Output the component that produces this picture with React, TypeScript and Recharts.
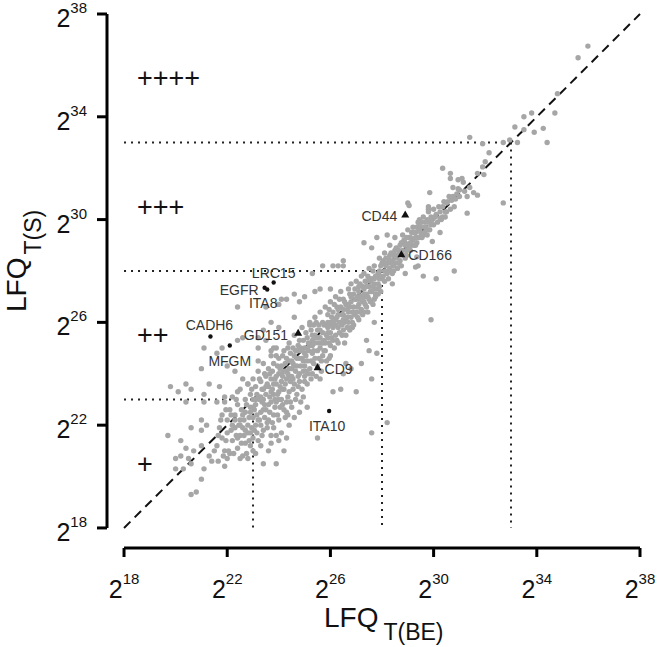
import { ScatterChart, Scatter, XAxis, YAxis, ReferenceLine } from 'recharts'

const FONT = '"Liberation Sans", Arial, Helvetica, sans-serif'

// log2 exponents on both axes
const axisTicks = [18, 22, 26, 30, 34, 38]
// the drawn axes sit a little outside the 2^18 corner
const xDomain = [17.34, 38]
const yDomain = [17.22, 38]
// dotted abundance cut-offs
const cutoffs = [23, 28, 33]
const plusLevels = ['+', '++', '+++', '++++']
const plusY = [20.5, 25.5, 30.5, 35.5]

type Pt = [number, number]

// [log2 LFQ T(BE), log2 LFQ T(S)]
const lowerScatter: Pt[] = [
  [19.8, 23.5], [20.4, 23.6], [20.6, 23.4], [20.1, 23.3], [21.3, 23.6], [21.1, 23.2], [21.7, 23.5],
  [20.4, 22.9], [21.1, 22.9], [21.6, 22.9], [21.9, 23.1], [22.4, 23.3], [22.6, 23.8], [22.3, 24.1],
  [21.0, 22.2], [20.6, 21.9], [21.0, 21.8], [21.2, 22.0], [20.2, 21.4], [20.4, 21.1], [20.0, 20.7],
  [20.2, 20.8], [20.5, 20.7], [20.6, 20.5], [20.7, 21.0], [21.0, 21.2], [20.3, 20.3], [21.1, 20.3],
  [21.0, 19.9], [20.6, 19.3], [20.8, 19.4], [21.3, 20.8], [21.4, 20.6], [21.9, 20.4], [21.5, 21.0],
  [22.0, 20.7], [22.5, 20.7], [22.8, 20.7], [23.0, 21.0], [23.4, 20.5], [23.9, 20.5], [24.2, 21.0],
  [24.1, 21.7], [23.8, 21.9], [23.7, 21.3], [23.3, 21.2], [19.7, 21.6], [20.0, 20.3],
  [22.9, 21.2], [23.1, 20.9], [23.6, 21.0], [24.0, 21.4], [24.4, 22.0], [24.6, 22.3], [24.8, 22.5],
  [23.9, 21.6], [24.3, 22.5],
]

const lowerBand: Pt[] = [
  [21.6, 21.2], [21.7, 21.9], [21.8, 22.4], [21.8, 21.5], [21.9, 22.9], [21.9, 21.0], [22.0, 21.7],
  [22.0, 22.2], [22.1, 20.9], [22.1, 22.6], [22.2, 21.4], [22.2, 23.1], [22.3, 21.9], [22.3, 22.4],
  [22.4, 21.1], [22.4, 22.8], [22.5, 21.6], [22.5, 22.2], [22.5, 23.4], [22.6, 21.9], [22.6, 20.8],
  [22.7, 22.5], [22.7, 23.0], [22.7, 21.3], [22.8, 22.0], [22.8, 23.6], [22.9, 21.7], [22.9, 22.7],
  [22.9, 23.2], [23.0, 22.3], [23.0, 21.5], [23.0, 23.0], [23.0, 23.8],
  [21.65, 20.6], [21.65, 21.6], [21.75, 22.2], [21.85, 20.8], [21.95, 21.4], [21.95, 22.6],
  [22.05, 21.0], [22.15, 21.8], [22.15, 22.4], [22.25, 20.9], [22.35, 21.6], [22.35, 23.0], [22.45, 22.0],
  [22.55, 21.3], [22.55, 22.6], [22.65, 21.6], [22.65, 22.2], [22.75, 20.9], [22.75, 22.8], [22.85, 21.4],
  [22.85, 22.3], [22.95, 21.9], [22.95, 23.4],
  [23.1, 22.0], [23.1, 22.8], [23.1, 23.5], [23.2, 21.4], [23.2, 23.1], [23.2, 24.1], [23.3, 22.5],
  [23.3, 23.7], [23.3, 22.0], [23.4, 23.0], [23.4, 23.4], [23.4, 24.4], [23.4, 21.8], [23.5, 22.6],
  [23.5, 23.9], [23.5, 23.2], [23.6, 22.2], [23.6, 24.2], [23.6, 23.5], [23.7, 22.9], [23.7, 24.7],
  [23.7, 23.8], [23.7, 21.6], [23.8, 23.2], [23.8, 22.4], [23.8, 24.4], [23.9, 23.6], [23.9, 22.9],
  [23.9, 25.0], [24.0, 23.3], [24.0, 24.0], [24.0, 22.2], [24.0, 24.6], [24.1, 23.0], [24.1, 23.7],
  [24.1, 24.3], [24.2, 22.6], [24.2, 24.9], [24.2, 23.4], [24.3, 24.1], [24.3, 23.8], [24.3, 22.9],
  [24.4, 24.5], [24.4, 23.3], [24.4, 25.2], [24.5, 23.9], [24.5, 24.2], [24.5, 22.7], [24.6, 24.7],
  [24.6, 23.6], [24.6, 25.5], [24.7, 24.3], [24.7, 23.2], [24.7, 24.9], [24.8, 24.0], [24.8, 25.3],
  [24.8, 23.7], [24.9, 24.6], [24.9, 25.8], [24.9, 23.4], [25.0, 24.3], [25.0, 25.0], [25.0, 24.8],
  [25.0, 23.9],
  [23.15, 22.4], [23.25, 23.8], [23.35, 22.9], [23.45, 24.0], [23.55, 22.1], [23.65, 23.1], [23.75, 24.1],
  [23.85, 23.0], [23.95, 24.3], [24.05, 22.7], [24.15, 24.7], [24.25, 23.6], [24.35, 22.4], [24.45, 23.7],
  [24.55, 24.4], [24.65, 23.0], [24.75, 25.1], [24.85, 24.3], [24.95, 23.1], [24.95, 25.3], [24.15, 23.4],
  [24.35, 25.0], [24.55, 25.0], [23.9, 24.7], [24.8, 24.6], [24.4, 23.9],
  [23.05, 21.8], [23.05, 22.6], [23.15, 23.2], [23.15, 21.7], [23.25, 22.2], [23.25, 23.0], [23.35, 21.6],
  [23.35, 23.4], [23.45, 22.3], [23.45, 22.8], [23.55, 21.9], [23.55, 23.6], [23.65, 22.5], [23.65, 24.0],
  [23.75, 22.1], [23.75, 23.4], [23.85, 22.7], [23.85, 23.8], [23.95, 22.4], [23.95, 23.2],
  [24.05, 23.5], [24.05, 24.2], [24.15, 22.8], [24.15, 23.9], [24.25, 22.3], [24.25, 24.4], [24.35, 23.1],
  [24.35, 24.0], [24.45, 22.9], [24.45, 24.8], [24.55, 23.4], [24.55, 23.8], [24.65, 24.1], [24.65, 24.9],
  [24.75, 23.5], [24.75, 23.9], [24.85, 22.9], [24.85, 25.0], [24.95, 24.1], [24.95, 24.5],
  [22.2, 22.0], [22.4, 21.5], [22.6, 22.4], [22.8, 21.7], [23.0, 22.7], [23.2, 22.2], [23.4, 22.6],
  [23.6, 22.8], [23.8, 23.6], [24.0, 23.0], [24.2, 24.1], [24.4, 24.2], [24.6, 24.3], [24.8, 24.9],
  [22.3, 22.2], [22.5, 22.0], [22.7, 21.8], [22.9, 22.5], [23.1, 23.0], [23.3, 23.1], [23.5, 23.5],
  [23.7, 23.3], [23.9, 23.9], [24.1, 24.0], [24.3, 24.6], [24.5, 24.5], [24.7, 24.6], [24.9, 24.9],
]

const midBand: Pt[] = [
  [25.1, 24.5], [25.1, 25.4], [25.1, 23.6], [25.2, 25.1], [25.2, 24.2], [25.2, 25.9], [25.3, 24.8],
  [25.3, 25.5], [25.3, 24.0], [25.4, 25.2], [25.4, 26.2], [25.4, 24.6], [25.5, 25.7], [25.5, 24.9],
  [25.5, 24.3], [25.6, 25.4], [25.6, 26.4], [25.6, 25.0], [25.7, 24.7], [25.7, 26.0], [25.7, 25.6],
  [25.8, 25.2], [25.8, 26.6], [25.8, 24.9], [25.9, 25.8], [25.9, 25.4], [25.9, 26.3], [26.0, 25.1],
  [26.0, 26.0], [26.0, 26.8], [26.0, 25.6], [26.1, 25.3], [26.1, 26.4], [26.1, 25.8], [26.2, 26.1],
  [26.2, 25.5], [26.2, 27.0], [26.3, 26.3], [26.3, 25.8], [26.3, 25.2], [26.4, 26.6], [26.4, 26.0],
  [26.4, 27.2], [26.5, 25.7], [26.5, 26.3], [26.5, 26.9], [26.6, 26.1], [26.6, 26.7], [26.6, 25.5],
  [26.7, 26.4], [26.7, 27.3], [26.7, 26.0], [26.8, 26.8], [26.8, 26.2], [26.8, 27.5], [26.9, 26.6],
  [26.9, 25.9], [26.9, 27.1], [27.0, 26.9], [27.0, 26.4], [27.0, 27.6], [27.1, 26.7], [27.1, 27.2],
  [27.1, 26.1], [27.2, 27.0], [27.2, 27.8], [27.2, 26.5], [27.3, 27.3], [27.3, 26.8], [27.3, 27.9],
  [27.4, 27.1], [27.4, 26.6], [27.4, 27.6], [27.5, 27.4], [27.5, 28.1], [27.5, 26.9], [27.6, 27.7],
  [27.6, 27.2], [27.7, 27.5], [27.7, 28.2], [27.7, 26.9], [27.8, 27.8], [27.8, 27.3], [27.9, 28.0],
  [27.9, 28.5], [27.9, 27.4], [28.0, 27.7], [28.0, 28.3],
  [25.05, 25.6], [25.15, 24.0], [25.25, 24.5], [25.35, 25.9], [25.45, 23.9], [25.55, 25.2], [25.65, 24.5],
  [25.75, 25.3], [25.85, 25.9], [25.95, 24.6], [26.05, 26.2], [26.15, 25.0], [26.25, 26.6], [26.35, 25.6],
  [26.45, 26.3], [26.55, 25.2], [26.65, 26.5], [26.75, 25.7], [26.85, 26.0], [26.95, 26.9], [27.05, 26.2],
  [27.15, 27.5], [27.25, 26.3], [27.35, 27.0], [27.45, 26.4], [27.55, 27.6], [27.65, 26.7], [27.75, 27.1],
  [27.85, 27.9], [27.95, 27.2], [25.4, 25.5], [25.6, 25.7], [25.9, 26.0], [26.2, 25.9], [26.5, 26.5],
  [26.8, 27.0], [27.1, 26.9], [27.4, 27.4], [27.7, 27.7], [25.3, 25.1],
  [25.05, 24.1], [25.05, 24.7], [25.15, 25.2], [25.15, 24.9], [25.25, 23.8], [25.25, 25.7], [25.35, 24.4],
  [25.35, 24.9], [25.45, 25.4], [25.45, 26.0], [25.55, 24.6], [25.55, 25.9], [25.65, 25.2], [25.65, 24.1],
  [25.75, 25.9], [25.75, 24.9], [25.85, 25.5], [25.85, 24.5], [25.95, 25.2], [25.95, 26.5],
  [26.05, 25.4], [26.05, 25.9], [26.15, 26.7], [26.15, 26.1], [26.25, 25.3], [26.25, 26.2], [26.35, 26.0],
  [26.35, 26.9], [26.45, 25.5], [26.45, 25.9], [26.55, 26.0], [26.55, 26.8], [26.65, 26.2], [26.65, 25.8],
  [26.75, 26.6], [26.75, 27.1], [26.85, 26.4], [26.85, 25.8], [26.95, 26.3], [26.95, 27.3],
  [27.05, 26.6], [27.05, 27.0], [27.15, 26.4], [27.15, 27.0], [27.25, 27.4], [27.25, 26.8], [27.35, 26.7],
  [27.35, 27.6], [27.45, 27.0], [27.45, 27.8], [27.55, 26.8], [27.55, 27.2], [27.65, 27.4], [27.65, 28.0],
  [27.75, 27.0], [27.75, 27.8], [27.85, 27.5], [27.85, 27.1], [27.95, 27.8], [27.95, 28.2],
  [25.1, 25.0], [25.3, 25.3], [25.5, 25.4], [25.7, 25.2], [25.9, 25.6], [26.1, 26.0], [26.3, 26.5],
  [26.5, 26.1], [26.7, 26.7], [26.9, 26.4], [27.1, 27.4], [27.3, 27.1], [27.5, 27.7], [27.7, 27.3],
  [27.9, 27.7],
]

const upperBand: Pt[] = [
  [28.1, 28.0], [28.1, 27.6], [28.1, 28.7], [28.2, 28.3], [28.2, 27.9], [28.3, 28.6], [28.3, 28.1],
  [28.3, 29.0], [28.4, 28.4], [28.4, 27.9], [28.5, 28.8], [28.5, 28.3], [28.5, 29.3], [28.6, 28.6],
  [28.6, 28.1], [28.7, 29.0], [28.7, 28.4], [28.8, 29.4], [28.8, 28.8], [28.9, 29.1], [28.9, 28.5],
  [29.0, 29.6], [29.0, 29.0], [29.1, 29.3], [29.1, 28.8], [29.2, 29.7], [29.2, 29.2], [29.3, 29.5],
  [29.3, 29.0], [29.4, 29.9], [29.4, 29.3], [29.5, 29.7], [29.6, 30.1], [29.6, 29.4], [29.7, 29.9],
  [29.8, 30.3], [29.8, 29.6], [29.9, 30.1], [30.0, 30.4], [30.0, 29.8],
  [28.05, 28.4], [28.15, 28.2], [28.25, 27.7], [28.35, 28.7], [28.45, 28.2], [28.55, 28.9], [28.65, 28.3],
  [28.75, 28.7], [28.85, 29.2], [28.95, 28.8], [29.05, 29.3], [29.15, 29.0], [29.25, 29.5], [29.35, 29.1],
  [29.45, 29.6], [29.55, 29.3], [29.65, 29.7], [29.75, 30.0], [30.1, 30.2], [30.2, 30.5], [30.3, 30.0],
  [30.4, 30.7], [30.5, 30.3], [30.6, 30.9], [30.8, 30.5], [31.0, 30.9], [31.2, 31.1], [31.1, 31.6],
  [30.9, 31.0],
  [28.05, 27.8], [28.15, 28.5], [28.25, 28.0], [28.25, 28.5], [28.35, 28.3], [28.45, 28.6], [28.45, 28.0],
  [28.55, 28.5], [28.65, 28.8], [28.75, 28.2], [28.75, 29.1], [28.85, 28.6], [28.95, 29.3], [28.95, 28.6],
  [29.05, 28.9], [29.15, 29.5], [29.25, 29.0], [29.35, 29.7], [29.45, 29.3], [29.55, 29.9], [29.65, 29.5],
  [29.75, 29.4], [29.85, 29.9], [29.95, 30.0], [30.05, 30.1], [30.15, 29.9], [30.25, 30.3], [30.35, 30.5],
  [30.45, 30.1], [30.55, 30.7], [30.65, 30.4], [30.75, 30.9], [30.85, 30.8], [30.95, 31.2],
  [28.1, 28.3], [28.3, 28.4], [28.5, 28.6], [28.7, 28.7], [28.9, 29.0], [29.1, 29.1], [29.3, 29.3],
  [29.5, 29.5], [29.7, 29.7], [29.9, 29.8],
]

const topTail: Pt[] = [
  [35.98, 36.75], [35.6, 36.3], [34.8, 34.9], [34.7, 34.15], [33.8, 34.15], [33.5, 34.0], [33.15, 33.6],
  [33.5, 33.5], [33.9, 33.4], [34.25, 33.55], [34.4, 33.0], [32.95, 33.1], [32.7, 33.0], [33.25, 33.0],
  [31.9, 32.95], [31.4, 33.2], [32.15, 32.6], [32.0, 32.25], [31.9, 32.05], [31.7, 31.8], [31.95, 31.75],
  [30.35, 32.0], [30.65, 31.8], [30.95, 31.55], [31.15, 31.45], [31.4, 31.25], [31.55, 31.05], [31.0, 31.15],
  [30.75, 31.25], [31.3, 30.9], [29.85, 31.05], [32.7, 30.65], [31.3, 30.25], [30.7, 30.75], [30.5, 30.65],
  [30.45, 30.3], [30.25, 30.05], [29.8, 30.4], [29.05, 30.55], [29.45, 30.0], [29.85, 29.6], [30.35, 30.1],
  [31.7, 30.95], [30.65, 31.6], [29.8, 30.5], [29.0, 30.65], [29.95, 29.15], [30.25, 29.5], [29.45, 29.8],
  [29.6, 27.8], [29.3, 28.15], [29.35, 28.55], [28.9, 27.9],
]

const outliers: Pt[] = [
  [24.3, 21.5], [25.1, 22.7], [25.5, 21.5], [27.6, 21.7], [28.2, 22.1], [26.1, 23.3], [26.4, 23.4],
  [27.0, 23.3], [27.6, 23.8], [27.4, 25.3], [26.8, 25.8], [27.8, 24.8], [26.6, 24.4], [26.5, 24.0],
  [27.3, 26.4], [27.7, 26.0], [27.5, 24.9], [26.8, 24.2], [27.2, 24.4], [26.0, 24.7], [25.6, 23.8],
  [25.0, 23.7], [24.6, 27.1], [25.0, 27.0], [25.4, 27.2], [25.6, 27.3], [26.0, 27.3], [26.5, 28.2],
  [26.1, 28.2], [24.8, 26.8], [24.1, 26.9], [24.6, 26.2], [25.2, 26.0], [23.5, 26.6], [23.7, 26.0],
  [23.2, 25.4], [23.4, 25.7], [24.0, 25.8], [23.5, 25.3], [23.2, 25.0], [23.7, 24.9], [25.7, 28.2],
  [26.3, 28.2], [25.3, 27.9], [24.0, 26.7], [22.4, 26.6], [22.6, 25.4], [22.4, 25.3], [21.8, 25.0],
  [21.1, 25.0], [21.6, 24.8], [21.0, 24.2], [22.0, 24.3], [23.2, 24.5], [23.8, 25.0], [22.8, 23.6],
  [27.3, 29.1], [27.8, 29.3], [28.2, 29.4], [27.6, 28.9], [29.4, 28.2], [30.1, 27.7], [30.8, 28.0],
  [28.4, 27.5], [26.5, 28.4], [29.9, 26.1], [24.3, 26.9], [23.97, 26.7],
]

const markedNames = ['CD44', 'CD166', 'LRC15', 'EGFR', 'ITA8', 'CADH6', 'MFGM', 'GD151', 'CD9', 'ITA10']
const markedBE = [28.9, 28.75, 23.8, 23.45, 23.55, 21.35, 22.1, 24.75, 25.5, 25.95]
const markedS = [30.2, 28.65, 27.55, 27.35, 27.28, 25.45, 25.1, 25.6, 24.25, 22.55]

// label placement for the marked proteins (pixels)
const labelStyle: Record<string, { dx: number; dy: number; anchor: 'start' | 'middle' | 'end'; tri?: boolean }> = {
  CD44: { dx: -8, dy: 7, anchor: 'end', tri: true },
  CD166: { dx: 7, dy: 6, anchor: 'start', tri: true },
  LRC15: { dx: 0, dy: -5, anchor: 'middle' },
  EGFR: { dx: -6, dy: 7, anchor: 'end' },
  ITA8: { dx: -4, dy: 19, anchor: 'middle' },
  CADH6: { dx: -1, dy: -7, anchor: 'middle' },
  MFGM: { dx: 0, dy: 20, anchor: 'middle' },
  GD151: { dx: -10, dy: 7, anchor: 'end', tri: true },
  CD9: { dx: 7, dy: 7, anchor: 'start', tri: true },
  ITA10: { dx: -2, dy: 20, anchor: 'middle' },
}

const grayData = [...lowerScatter, ...lowerBand, ...midBand, ...upperBand, ...topTail, ...outliers].map(
  ([x, y]) => ({ x, y })
)
const markedData = markedNames.map((name, i) => ({ name, x: markedBE[i], y: markedS[i] }))
const plusData = plusLevels.map((t, i) => ({ t, x: 18.5, y: plusY[i] }))

const GrayDot = (p: any) => <circle cx={p.cx} cy={p.cy} r={2.7} fill="#a6a6a6" />

const MarkedDot = (p: any) => {
  const name = p.payload.name
  const s = labelStyle[name]
  return (
    <g>
      {s.tri ? (
        <path d={`M${p.cx},${p.cy - 4} L${p.cx + 4},${p.cy + 3} L${p.cx - 4},${p.cy + 3} Z`} fill="#111" />
      ) : (
        <circle cx={p.cx} cy={p.cy} r={2.2} fill="#111" />
      )}
      <text x={p.cx + s.dx} y={p.cy + s.dy} textAnchor={s.anchor} fontSize={14} fontFamily={FONT} fill="#333">
        {name}
      </text>
    </g>
  )
}

const PlusLabel = (p: any) => (
  <text x={p.cx} y={p.cy + 9} fontSize={27} fontFamily={FONT} fill="#111">
    {p.payload.t}
  </text>
)

// x, y arrive at the axis line (tickSize 0)
const XTick = ({ x, y, payload }: any) => (
  <g>
    <line x1={x} x2={x} y1={y} y2={y + 9} stroke="#000" strokeWidth={3} />
    <text x={x} y={y + 50} textAnchor="middle" fontSize={25} fontFamily={FONT} fill="#111">
      2<tspan dy={-14} fontSize={15}>{payload.value}</tspan>
    </text>
  </g>
)

const YTick = ({ x, y, payload }: any) => (
  <g>
    <line x1={x - 10} x2={x} y1={y} y2={y} stroke="#000" strokeWidth={3} />
    <text x={x - 20} y={y + 13} textAnchor="end" fontSize={25} fontFamily={FONT} fill="#111">
      2<tspan dy={-14} fontSize={15}>{payload.value}</tspan>
    </text>
  </g>
)

const XTitle = () => (
  <text x={324} y={627} fontSize={28} fontFamily={FONT} fill="#111">
    LFQ<tspan dx={5} dy={13} fontSize={23}>T(BE)</tspan>
  </text>
)

const YTitle = () => (
  <text transform="translate(26,312) rotate(-90)" fontSize={28} fontFamily={FONT} fill="#111">
    LFQ<tspan dx={3} dy={15} fontSize={23}>T(S)</tspan>
  </text>
)

export default function App() {
  return (
    <div style={{ position: 'absolute', left: 0, top: 0, width: 660, height: 647 }}>
      <ScatterChart width={660} height={647} margin={{ top: 14, right: 20, left: 47, bottom: 19 }}>
        <XAxis
          type="number"
          dataKey="x"
          domain={xDomain}
          ticks={axisTicks}
          allowDataOverflow
          axisLine={false}
          tickLine={false}
          tickSize={0}
          tickMargin={0}
          height={80}
          tick={<XTick />}
          label={XTitle}
        />
        <YAxis
          type="number"
          dataKey="y"
          domain={yDomain}
          ticks={axisTicks}
          allowDataOverflow
          axisLine={false}
          tickLine={false}
          tickSize={0}
          tickMargin={0}
          width={60}
          tick={<YTick />}
          label={YTitle}
        />
        <Scatter data={grayData} shape={GrayDot} isAnimationActive={false} />
        {cutoffs.map((c) => (
          <ReferenceLine
            key={`h${c}`}
            segment={[{ x: 18, y: c }, { x: c, y: c }]}
            stroke="#222"
            strokeWidth={2}
            strokeDasharray="2 5"
          />
        ))}
        {cutoffs.map((c) => (
          <ReferenceLine
            key={`v${c}`}
            segment={[{ x: c, y: c }, { x: c, y: 18 }]}
            stroke="#222"
            strokeWidth={2}
            strokeDasharray="2 5"
          />
        ))}
        <ReferenceLine
          segment={[{ x: 18, y: 18 }, { x: 38, y: 38 }]}
          stroke="#111"
          strokeWidth={2}
          strokeDasharray="9 6"
        />
        {/* offset axis lines */}
        <ReferenceLine
          segment={[{ x: xDomain[0], y: 18 }, { x: xDomain[0], y: 38 }]}
          stroke="#000"
          strokeWidth={3}
          ifOverflow="visible"
        />
        <ReferenceLine
          segment={[{ x: 18, y: yDomain[0] }, { x: 38, y: yDomain[0] }]}
          stroke="#000"
          strokeWidth={3}
          ifOverflow="visible"
        />
        <Scatter data={markedData} shape={MarkedDot} isAnimationActive={false} />
        <Scatter data={plusData} shape={PlusLabel} isAnimationActive={false} />
      </ScatterChart>
    </div>
  )
}
